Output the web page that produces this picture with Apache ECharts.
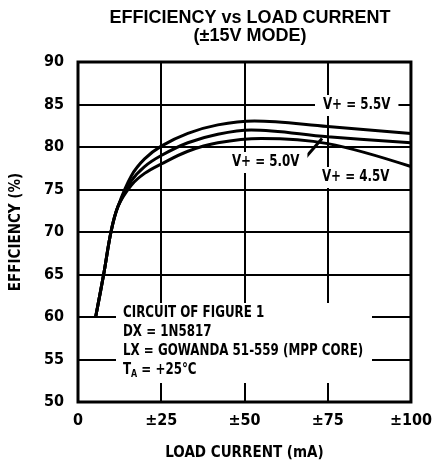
<!DOCTYPE html>
<html>
<head>
<meta charset="utf-8">
<script src="https://cdn.jsdelivr.net/npm/echarts@6/dist/echarts.min.js"></script>
<style>
  html, body { margin: 0; padding: 0; background: #fff; }
  #chart { width: 435px; height: 467px; }
</style>
</head>
<body>
<div id="chart"></div>
<script>
// ---- data ----
const xTicks = [0, 25, 50, 75, 100];
const yTicks = [50, 55, 60, 65, 70, 75, 80, 85, 90];
// shared low-current segment (all three curves coincide)
const commonPart = [[5.3, 60], [7.7, 65], [9.9, 70], [12, 73]];
const v55 = [[16, 76.6], [20, 78.6], [25, 80.1], [33, 81.6], [42, 82.6], [53, 83.05], [75, 82.4], [100, 81.6]];
const v50 = [[16, 76.0], [20, 77.7], [25, 79.0], [33, 80.5], [42, 81.5], [52, 82.0], [75, 81.2], [100, 80.5]];
const v45 = [[16, 75.5], [20, 76.9], [25, 78.0], [33, 79.5], [42, 80.5], [55, 81.0], [75, 80.4], [100, 77.7]];
const seriesNames = ['V+ = 5.5V', 'V+ = 5.0V', 'V+ = 4.5V'];

const FONT = '"Liberation Sans Narrow", "DejaVu Sans Condensed", "Liberation Sans", sans-serif';

const chart = echarts.init(document.getElementById('chart'), null, { renderer: 'canvas' });

function curve(name, pts) {
  return {
    name: name,
    type: 'line',
    data: commonPart.concat(pts),
    smooth: 0.35,
    symbol: 'none',
    lineStyle: { color: '#000', width: 3 },
    z: 3
  };
}

const series = [curve(seriesNames[0], v55), curve(seriesNames[1], v50), curve(seriesNames[2], v45)];
// arrow pointing at V+ = 5.0V curve
series[1].markLine = {
  silent: true,
  animation: false,
  symbol: ['none', 'arrow'],
  symbolSize: [0, 11],
  label: { show: false },
  lineStyle: { color: '#000', width: 3, type: 'solid' },
  data: [[{ coord: [67.3, 78.3] }, { coord: [73.3, 81.0] }]]
};

const SX = 0.88;
const labelBox = (text, x, y) => ({
  type: 'text',
  x: x, y: y,
  scaleX: SX,
  z: 100,
  style: {
    text: text,
    font: 'bold 15px ' + FONT,
    fill: '#000',
    backgroundColor: '#fff',
    padding: [3, 9, 3, 9]
  }
});

const option = {
  animation: false,
  backgroundColor: '#fff',
  title: {
    text: 'EFFICIENCY vs LOAD CURRENT\n(±15V MODE)',
    left: 245,
    top: 4,
    textAlign: 'center',
    textStyle: { fontFamily: '"Liberation Sans", Arial, sans-serif', fontSize: 18, fontWeight: 'bold', color: '#000', lineHeight: 18 }
  },
  grid: {
    left: 78, right: 19, top: 62, bottom: 65,
    show: true, borderColor: '#000', borderWidth: 3, backgroundColor: 'transparent'
  },
  xAxis: {
    type: 'value',
    min: xTicks[0], max: xTicks[xTicks.length - 1], interval: 25,
    name: 'LOAD CURRENT (mA)',
    nameLocation: 'middle',
    nameGap: 44,
    nameTextStyle: { fontFamily: FONT, fontSize: 15, fontWeight: 'bold', color: '#000' },
    axisLine: { show: false },
    axisTick: { show: false },
    splitLine: { show: true, lineStyle: { color: '#000', width: 2 } },
    axisLabel: {
      margin: 11,
      fontFamily: FONT, fontSize: 16, fontWeight: 'bold', color: '#000',
      formatter: v => (v === 0 ? '0' : '±' + v)
    }
  },
  yAxis: {
    type: 'value',
    min: yTicks[0], max: yTicks[yTicks.length - 1], interval: 5,
    name: 'EFFICIENCY (%)',
    nameLocation: 'middle',
    nameGap: 54,
    nameTextStyle: { fontFamily: FONT, fontSize: 15, fontWeight: 'bold', color: '#000' },
    axisLine: { show: false },
    axisTick: { show: false },
    splitLine: { show: true, lineStyle: { color: '#000', width: 2 } },
    axisLabel: {
      margin: 14,
      padding: [8, 0, 0, 0],
      fontFamily: FONT, fontSize: 16, fontWeight: 'bold', color: '#000'
    }
  },
  series: series,
  graphic: [
    labelBox(seriesNames[0], 315, 95),
    labelBox(seriesNames[1], 224, 152),
    labelBox(seriesNames[2], 314, 167),
    {
      type: 'rect', z: 90,
      shape: { x: 116, y: 303, width: 256, height: 80 },
      style: { fill: '#fff' }
    },
    {
      type: 'text', z: 100, x: 123, y: 304,
      scaleX: SX,
      style: {
        text: 'CIRCUIT OF FIGURE 1\nDX = 1N5817\nLX = GOWANDA 51-559 (MPP CORE)\n{a|T}{s|A}{a| = +25°C}',
        font: 'bold 15px ' + FONT,
        fill: '#000',
        lineHeight: 19,
        rich: {
          a: { font: 'bold 15px ' + FONT, fill: '#000', lineHeight: 19 },
          s: { font: 'bold 10px ' + FONT, fill: '#000', lineHeight: 19, padding: [8, 0, 0, 0] }
        }
      }
    }
  ]
};

chart.setOption(option);
</script>
</body>
</html>
